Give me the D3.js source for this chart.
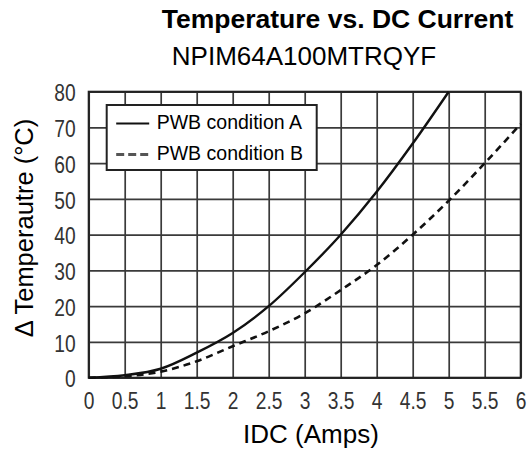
<!DOCTYPE html>
<html>
<head>
<meta charset="utf-8">
<script src="https://cdn.jsdelivr.net/npm/d3@7"></script>
<style>
  body { margin: 0; background: #fff; }
  text { font-family: "Liberation Sans", Arial, sans-serif; fill: #000; }
  .tick text { fill: #333; }
</style>
</head>
<body>
<div id="container"></div>
<script>
/* DATA */
const currentA = [0, 0.5, 1, 1.5, 2, 2.5, 3, 3.5, 4, 4.5, 5];
const tempA = [0, 0.7, 2.5, 7, 12.5, 20, 29.5, 40, 52, 65.5, 80];
const currentB = [0, 0.5, 1, 1.5, 2, 2.5, 3, 3.5, 4, 4.5, 5, 5.5, 6];
const tempB = [0, 0.4, 1.7, 4.6, 8.8, 13, 18, 24.5, 31.5, 40, 49.5, 60, 71];
const xTicks = [0, 0.5, 1, 1.5, 2, 2.5, 3, 3.5, 4, 4.5, 5, 5.5, 6];
const yTicks = [0, 10, 20, 30, 40, 50, 60, 70, 80];
const seriesNames = ["PWB condition A", "PWB condition B"];

/* CONSTANTS */
const W = 531, H = 450;
const margin = { top: 91.7, right: 10.3, bottom: 72.3, left: 88.7 };
const width = W - margin.left - margin.right;
const height = H - margin.top - margin.bottom;
// tick labels in the original are a condensed face
const squeeze = 0.8;

const svg = d3.select("#container")
  .append("svg")
  .attr("width", W)
  .attr("height", H);

const g = svg.append("g")
  .attr("transform", `translate(${margin.left},${margin.top})`);

// scales
const xScale = d3.scaleLinear().domain([0, 6]).range([0, width]);
const yScale = d3.scaleLinear().domain([0, 80]).range([height, 0]);

// grid (vertical + horizontal)
g.append("g")
  .call(d3.axisBottom(xScale).tickValues(xTicks).tickSize(-height).tickFormat(""))
  .attr("transform", `translate(0,${height})`)
  .call(a => a.select(".domain").remove())
  .selectAll("line").attr("stroke", "#3a3a3a").attr("stroke-width", 1.7);

g.append("g")
  .call(d3.axisLeft(yScale).tickValues(yTicks).tickSize(-width).tickFormat(""))
  .call(a => a.select(".domain").remove())
  .selectAll("line").attr("stroke", "#3a3a3a").attr("stroke-width", 1.7);

// plot border
g.append("rect")
  .attr("width", width).attr("height", height)
  .attr("fill", "none").attr("stroke", "#222").attr("stroke-width", 2);

// tick labels
const xAxis = g.append("g")
  .attr("transform", `translate(0,${height})`)
  .call(d3.axisBottom(xScale).tickValues(xTicks).tickSize(0).tickPadding(14).tickFormat(d => d));
xAxis.select(".domain").remove();
xAxis.selectAll("text")
  .attr("font-size", 24).attr("dy", "0.71em")
  .attr("transform", `scale(${squeeze},1)`);

const yAxis = g.append("g")
  .call(d3.axisLeft(yScale).tickValues(yTicks).tickSize(0));
yAxis.select(".domain").remove();
yAxis.selectAll("text")
  .attr("font-size", 24).attr("dy", "0.38em")
  .attr("x", -13 / squeeze)
  .attr("transform", `scale(${squeeze},1)`);

// curves
const line = d3.line()
  .x(d => xScale(d[0]))
  .y(d => yScale(d[1]))
  .curve(d3.curveMonotoneX);

g.append("path")
  .datum(d3.zip(currentA, tempA))
  .attr("d", line)
  .attr("fill", "none").attr("stroke", "#111").attr("stroke-width", 2.4);

g.append("path")
  .datum(d3.zip(currentB, tempB))
  .attr("d", line)
  .attr("fill", "none").attr("stroke", "#111").attr("stroke-width", 2.6)
  .attr("stroke-dasharray", "7,5");

// legend
const legend = svg.append("g").attr("transform", "translate(106.7,105)");
legend.append("rect")
  .attr("width", 210).attr("height", 65)
  .attr("fill", "#fff").attr("stroke", "#222").attr("stroke-width", 2);
seriesNames.forEach((name, i) => {
  const y = 18.5 + i * 31;
  legend.append("line")
    .attr("x1", 9.5).attr("x2", 42.5).attr("y1", y).attr("y2", y)
    .attr("stroke", i === 0 ? "#111" : "#555").attr("stroke-width", i === 0 ? 2.2 : 3)
    .attr("stroke-dasharray", i === 0 ? null : "8,4");
  legend.append("text")
    .attr("x", 50).attr("y", y + 5)
    .attr("font-size", 19.5)
    .text(name);
});

// titles
svg.append("text")
  .attr("x", 337.5).attr("y", 28)
  .attr("text-anchor", "middle")
  .attr("font-size", 26.5).attr("font-weight", "bold")
  .text("Temperature vs. DC Current");

svg.append("text")
  .attr("x", 304).attr("y", 65)
  .attr("text-anchor", "middle")
  .attr("font-size", 26)
  .text("NPIM64A100MTRQYF");

svg.append("text")
  .attr("x", 311).attr("y", 443)
  .attr("text-anchor", "middle")
  .attr("font-size", 26)
  .text("IDC (Amps)");

svg.append("text")
  .attr("transform", "translate(33,228) rotate(-90)")
  .attr("text-anchor", "middle")
  .attr("font-size", 25.5)
  .text("\u0394 Temperautre (\u00B0C)");
</script>
</body>
</html>
